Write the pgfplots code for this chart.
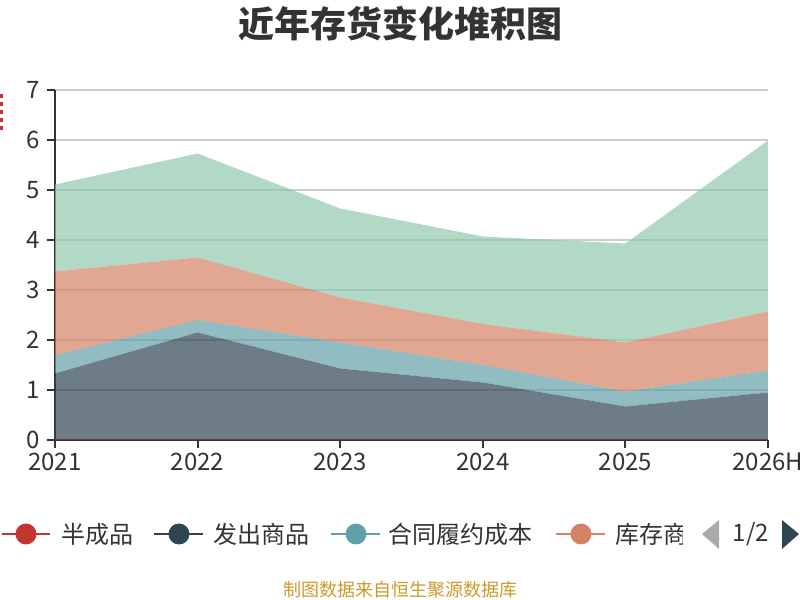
\documentclass[border=0pt]{standalone}
\usepackage{fontspec}
\setmainfont{Noto Sans CJK SC}
\usepackage{pgfplots}
\pgfplotsset{compat=1.18}
\definecolor{cRed}{HTML}{C23531}
\definecolor{cDark}{HTML}{2F4554}
\definecolor{cTeal}{HTML}{61A0A8}
\definecolor{cOrange}{HTML}{D48265}
\definecolor{cGreen}{HTML}{91C7AE}
\definecolor{cText}{HTML}{333333}
\definecolor{cAxis}{HTML}{333333}
\definecolor{cGrid}{HTML}{CCCCCC}
\definecolor{cSrc}{HTML}{CC9A2C}
\definecolor{cPagerOff}{HTML}{AAAAAA}
\begin{document}
\begin{tikzpicture}[x=0.75pt,y=0.75pt]
\useasboundingbox (0,0) rectangle (800,600);
\clip (0,0) rectangle (800,600);
\node[font=\fontsize{27}{30}\selectfont\bfseries, text=cText] at (400,576) {近年存货变化堆积图};
\draw[cRed, dashed, line width=1.5pt] (1.5,506) -- (1.5,469);
\begin{axis}[
  at={(41.25pt,120pt)}, anchor=south west,
  scale only axis, width=534.75pt, height=262.5pt,
  xmin=0, xmax=5, ymin=0, ymax=7,
  xtick={0,1,2,3,4,5}, xticklabels={2021,2022,2023,2024,2025,2026H},
  ytick={0,1,2,3,4,5,6,7},
  axis x line*=bottom, axis y line*=left,
  axis line style={draw=cAxis, line width=1.5pt},
  tick align=outside, major tick length=6pt,
  tick style={draw=cAxis, line width=1.5pt},
  ymajorgrids, grid style={draw=cGrid, line width=1.1pt},
  tick label style={font=\fontsize{18}{20}\selectfont, text=cText},
  yticklabel style={xshift=-2pt},
  /pgf/number format/assume math mode=true,
  stack plots=y,
]
\addplot[fill=cRed, fill opacity=0.7, draw=none] coordinates {(0,0.01) (1,0.01) (2,0.01) (3,0.01) (4,0.01) (5,0.01)} \closedcycle;
\addplot[fill=cDark, fill opacity=0.7, draw=none] coordinates {(0,1.32) (1,2.14) (2,1.42) (3,1.14) (4,0.66) (5,0.94)} \closedcycle;
\addplot[fill=cTeal, fill opacity=0.7, draw=none] coordinates {(0,0.36) (1,0.25) (2,0.52) (3,0.35) (4,0.30) (5,0.44)} \closedcycle;
\addplot[fill=cOrange, fill opacity=0.7, draw=none] coordinates {(0,1.68) (1,1.25) (2,0.90) (3,0.82) (4,0.98) (5,1.18)} \closedcycle;
\addplot[fill=cGreen, fill opacity=0.7, draw=none] coordinates {(0,1.74) (1,2.08) (2,1.78) (3,1.75) (4,1.98) (5,3.42)} \closedcycle;
\end{axis}
% legend
\tikzset{legtxt/.style={anchor=west, inner sep=0pt, font=\fontsize{18}{20}\selectfont, text=cText}}
\draw[cRed, line width=1.5pt] (1.7,66) -- (50,66); \fill[cRed] (26,66) circle (10.5);
\node[legtxt] at (61,66) {半成品};
\draw[cDark, line width=1.5pt] (154,66) -- (203,66); \fill[cDark] (179,66) circle (10.5);
\node[legtxt] at (213,66) {发出商品};
\draw[cTeal, line width=1.5pt] (331,66) -- (380,66); \fill[cTeal] (356,66) circle (10.5);
\node[legtxt] at (388,66) {合同履约成本};
\draw[cOrange, line width=1.5pt] (556,66) -- (605,66); \fill[cOrange] (581,66) circle (10.5);
\begin{scope}
\clip (600,30) rectangle (682,100);
\node[legtxt] at (615,66) {库存商品};
\end{scope}
\fill[cPagerOff] (702,66) -- (719,80) -- (719,51) -- cycle;
\node[font=\fontsize{18}{20}\selectfont, text=cText] at (751,66) {1/2};
\fill[cDark] (782,80) -- (782,51) -- (799,66) -- cycle;
\node[font=\fontsize{13.5}{16}\selectfont, text=cSrc] at (400,10) {制图数据来自恒生聚源数据库};
\end{tikzpicture}
\end{document}
